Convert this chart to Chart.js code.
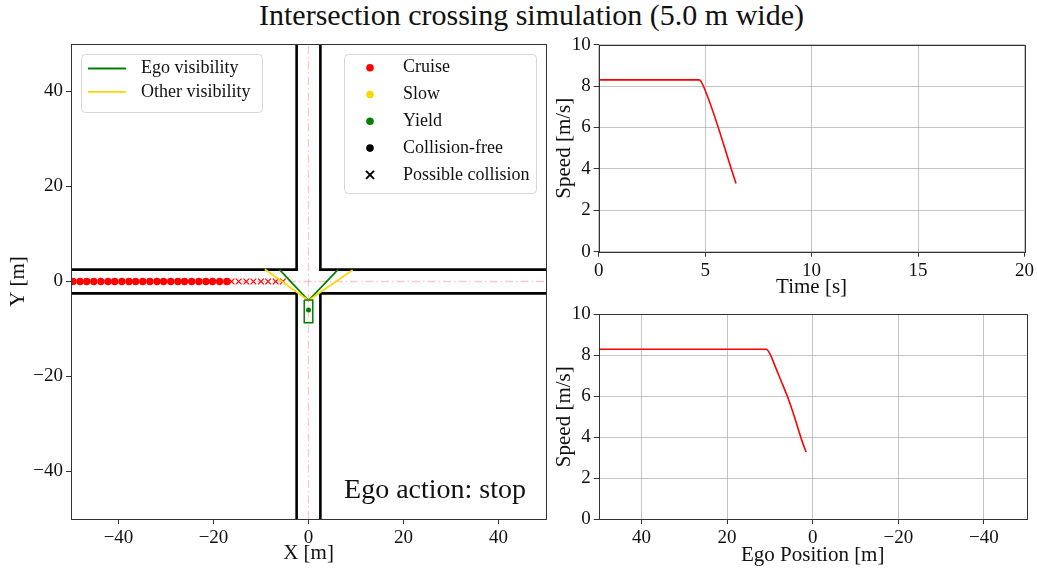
<!DOCTYPE html>
<html>
<head>
<meta charset="utf-8">
<script src="https://cdn.jsdelivr.net/npm/chart.js@4.4.0/dist/chart.umd.min.js"></script>
<style>
    body { margin: 0; background: #fff; width: 1037px; height: 571px; position: relative; overflow: hidden; }
    #title { position: absolute; left: 0; top: -2px; width: 1063px; text-align: center; font-family: "Liberation Serif", serif; font-size: 30px; line-height: 34px; color: #111; }
    canvas { position: absolute; }
    #mapChart { left: 0; top: 0; }
    #timeChart { left: 548px; top: 0; }
    #posChart { left: 548px; top: 300px; }
</style>
</head>
<body>
<div id="title">Intersection crossing simulation (5.0 m wide)</div>
<canvas id="mapChart" width="560" height="571"></canvas>
<canvas id="timeChart" width="489" height="300"></canvas>
<canvas id="posChart" width="489" height="271"></canvas>
<script>
// Intersection map
const mapTicks = [-40, -20, 0, 20, 40];
const roadEdges = [
    [[-50, 2.5], [-2.5, 2.5], [-2.5, 50]],
    [[50, 2.5], [2.5, 2.5], [2.5, 50]],
    [[-50, -2.5], [-2.5, -2.5], [-2.5, -50]],
    [[50, -2.5], [2.5, -2.5], [2.5, -50]]
];
const centerLines = [
    [[-50, 0], [50, 0]],
    [[0, -50], [0, 50]]
];
const otherFreeX = [-49.6, -48.1, -46.7, -45.2, -43.7, -42.2, -40.8, -39.3, -37.8, -36.4, -34.9, -33.4,
    -31.9, -30.5, -29.0, -27.5, -26.1, -24.6, -23.1, -21.6, -20.2, -18.7, -17.2];
const otherCollisionX = [-16.2, -14.7, -13.1, -11.6, -10.0, -8.5, -6.9, -5.4];
const otherY = 0;
const egoCarOutline = [[-0.9, -3.9], [0.9, -3.9], [0.9, -8.7], [-0.9, -8.7], [-0.9, -3.9]];
const egoCarCenter = [[0, -6.0]];
const egoVisibility = [[-6.1, 2.5], [0, -4.0], [6.2, 2.5]];
const otherVisibility = [[-9.2, 2.6], [0, -4.0], [9.3, 2.4]];

// Speed profiles
const timeTicks = [0, 5, 10, 15, 20];
const speedTicks = [0, 2, 4, 6, 8, 10];
const timeS = [0, 4.73, 4.85, 6.45];
const speedByTime = [8.3, 8.3, 8.15, 3.3];
const egoPosition = [50, 10.9, 10.1, 8.96, 7.4, 5.85, 4.28, 3.1, 2.34, 1.55];
const speedByPosition = [8.3, 8.3, 8.12, 7.56, 6.76, 5.96, 5.0, 4.2, 3.72, 3.28];

const FONT = '"Liberation Serif", serif';
const TEXT = '#111';
const GREEN = '#008000';
const GOLD = '#FFD700';
const RED = '#FF0000';

const toXY = pts => pts.map(([x, y]) => ({ x, y }));
const minusSign = v => String(v).replace('-', '\u2212');

// draws the box round the plot area, like matplotlib spines
const framePlugin = {
    id: 'frame',
    afterDraw(chart) {
        const a = chart.chartArea;
        const ctx = chart.ctx;
        ctx.save();
        ctx.strokeStyle = '#333';
        ctx.lineWidth = 1;
        ctx.strokeRect(Math.round(a.left) + 0.5, Math.round(a.top) + 0.5,
            Math.round(a.right - a.left), Math.round(a.bottom - a.top));
        ctx.restore();
    }
};

function legendBox(ctx, x, y, w, h) {
    ctx.save();
    ctx.fillStyle = 'rgba(255,255,255,0.85)';
    ctx.strokeStyle = '#d6d6d6';
    ctx.lineWidth = 1;
    ctx.beginPath();
    ctx.roundRect(x + 0.5, y + 0.5, w, h, 4);
    ctx.fill();
    ctx.stroke();
    ctx.restore();
}

const mapLegendPlugin = {
    id: 'mapLegend',
    afterDraw(chart) {
        const a = chart.chartArea;
        const ctx = chart.ctx;
        ctx.save();
        ctx.font = '18px ' + FONT;
        ctx.fillStyle = TEXT;
        ctx.textBaseline = 'middle';

        // visibility legend
        let bx = a.left + 10, by = a.top + 10;
        legendBox(ctx, bx, by, 181, 58);
        [['Ego visibility', GREEN], ['Other visibility', GOLD]].forEach(([label, color], i) => {
            const yy = by + 14.5 + i * 23.4;
            ctx.strokeStyle = color;
            ctx.lineWidth = 1.8;
            ctx.beginPath();
            ctx.moveTo(bx + 7, yy);
            ctx.lineTo(bx + 45, yy);
            ctx.stroke();
            ctx.fillText(label, bx + 60, yy);
        });

        // action legend
        bx = a.left + 273;
        legendBox(ctx, bx, by, 192, 139);
        const entries = [
            ['Cruise', RED, 'dot'],
            ['Slow', GOLD, 'dot'],
            ['Yield', GREEN, 'dot'],
            ['Collision-free', '#000', 'dot'],
            ['Possible collision', '#000', 'cross']
        ];
        entries.forEach(([label, color, kind], i) => {
            const yy = by + 13.7 + i * 26.8;
            const mx = bx + 26;
            if (kind === 'dot') {
                ctx.fillStyle = color;
                ctx.beginPath();
                ctx.arc(mx, yy, 3.8, 0, Math.PI * 2);
                ctx.fill();
            } else {
                ctx.strokeStyle = color;
                ctx.lineWidth = 2;
                ctx.beginPath();
                ctx.moveTo(mx - 4, yy - 4); ctx.lineTo(mx + 4, yy + 4);
                ctx.moveTo(mx + 4, yy - 4); ctx.lineTo(mx - 4, yy + 4);
                ctx.stroke();
            }
            ctx.fillStyle = TEXT;
            ctx.fillText(label, bx + 59, yy);
        });

        // action text
        ctx.font = '28px ' + FONT;
        ctx.textAlign = 'right';
        ctx.textBaseline = 'alphabetic';
        ctx.fillText('Ego action: stop', a.right - 20, a.bottom - 21);
        ctx.restore();
    }
};

function tickScale(ticks, extra) {
    return Object.assign({
        type: 'linear',
        afterBuildTicks: s => { s.ticks = ticks.map(v => ({ value: v })); },
        border: { display: false },
        grid: { drawOnChartArea: false, drawTicks: true, tickLength: 5, tickColor: '#333' },
        ticks: { color: TEXT, font: { family: FONT, size: 19 }, padding: 3, maxRotation: 0, callback: minusSign }
    }, extra);
}

function axisTitle(text, padding) {
    return { display: true, text, color: TEXT, font: { family: FONT, size: 21 }, padding };
}

function initializeMapChart() {
    const datasets = [];
    egoCarCenter.forEach(p => datasets.push({
        data: toXY([p]), showLine: false, pointRadius: 2.5, backgroundColor: GREEN, borderWidth: 0
    }));
    datasets.push({ data: toXY(egoCarOutline), showLine: true, borderColor: GREEN, borderWidth: 1.5, pointRadius: 0 });
    datasets.push({ data: toXY(otherVisibility), showLine: true, borderColor: GOLD, borderWidth: 1.8, pointRadius: 0 });
    datasets.push({ data: toXY(egoVisibility), showLine: true, borderColor: GREEN, borderWidth: 1.8, pointRadius: 0 });
    datasets.push({
        data: otherCollisionX.map(x => ({ x, y: otherY })), showLine: false,
        pointStyle: 'crossRot', pointRadius: 4, borderColor: RED, borderWidth: 1.2
    });
    datasets.push({
        data: otherFreeX.map(x => ({ x, y: otherY })), showLine: false,
        pointStyle: 'circle', pointRadius: 3.7, backgroundColor: RED, borderWidth: 0
    });
    roadEdges.forEach(seg => datasets.push({
        data: toXY(seg), showLine: true, borderColor: '#000', borderWidth: 2.6, pointRadius: 0
    }));
    centerLines.forEach(seg => datasets.push({
        data: toXY(seg), showLine: true, borderColor: 'rgba(255,0,0,0.22)', borderWidth: 1.3,
        borderDash: [8, 3, 1.5, 3], pointRadius: 0
    }));

    new Chart(document.getElementById('mapChart'), {
        type: 'scatter',
        data: { datasets },
        options: {
            responsive: false,
            animation: false,
            events: [],
            layout: { padding: { left: 0, top: 44, right: 14, bottom: 0 } },
            plugins: { legend: { display: false }, tooltip: { enabled: false } },
            scales: {
                x: tickScale(mapTicks, {
                    min: -50, max: 50,
                    afterFit: s => { s.height = 52; },
                    title: axisTitle('X [m]', { top: 0, bottom: 5 })
                }),
                y: tickScale(mapTicks, {
                    min: -50, max: 50,
                    afterFit: s => { s.width = 71; },
                    title: axisTitle('Y [m]', { top: 6, bottom: 0 })
                })
            }
        },
        plugins: [framePlugin, mapLegendPlugin]
    });
}

function speedChart(canvasId, xs, ys, xTicks, xRange, xLabel, padTop, xHeight, xTitlePad, reverse) {
    const gridLines = { drawOnChartArea: true, color: 'rgba(176,176,176,0.75)', lineWidth: 1, drawTicks: true, tickLength: 5, tickColor: '#333' };
    new Chart(document.getElementById(canvasId), {
        type: 'scatter',
        data: {
            datasets: [{
                data: xs.map((x, i) => ({ x, y: ys[i] })),
                showLine: true, borderColor: RED, borderWidth: 1.6, pointRadius: 0,
                cubicInterpolationMode: 'monotone'
            }]
        },
        options: {
            responsive: false,
            animation: false,
            events: [],
            layout: { padding: { left: 0, top: padTop, right: 10.3, bottom: 0 } },
            plugins: { legend: { display: false }, tooltip: { enabled: false } },
            scales: {
                x: tickScale(xTicks, {
                    min: xRange[0], max: xRange[1], reverse,
                    grid: gridLines,
                    afterFit: s => { s.height = xHeight; },
                    title: axisTitle(xLabel, { top: 0, bottom: xTitlePad })
                }),
                y: tickScale(speedTicks, {
                    min: 0, max: 10,
                    grid: gridLines,
                    afterFit: s => { s.width = 50.7; },
                    title: axisTitle('Speed [m/s]', { top: 4, bottom: 0 })
                })
            }
        },
        plugins: [framePlugin]
    });
}

document.addEventListener('DOMContentLoaded', () => {
    initializeMapChart();
    speedChart('timeChart', timeS, speedByTime, timeTicks, [0, 20], 'Time [s]', 44.7, 48.3, 0, false);
    speedChart('posChart', egoPosition, speedByPosition, mapTicks, [-50, 50], 'Ego Position [m]', 11, 52, 3, true);
});
</script>
</body>
</html>
